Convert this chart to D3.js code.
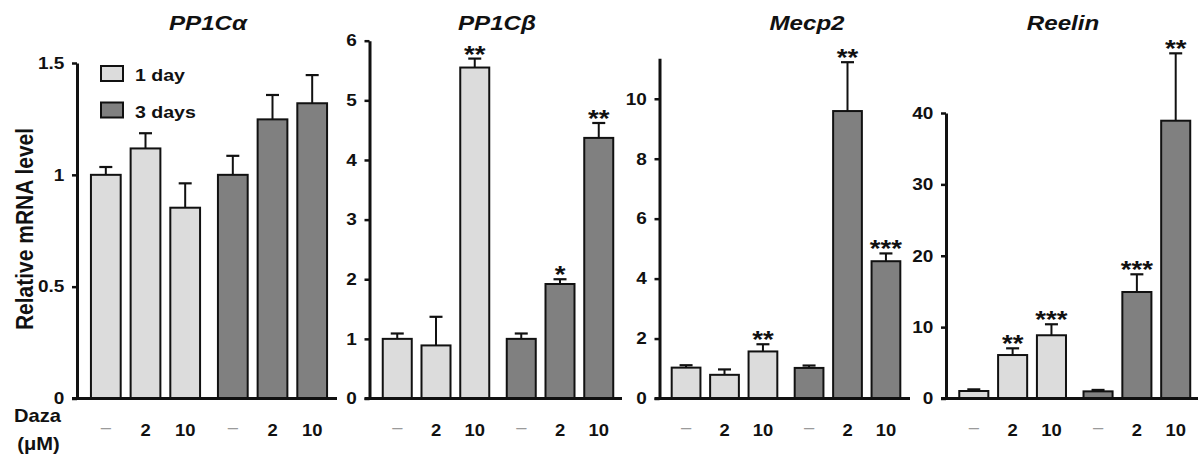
<!DOCTYPE html>
<html><head><meta charset="utf-8">
<script src="https://cdn.jsdelivr.net/npm/d3@7"></script>
<style>
body{margin:0;background:#fff}
svg{display:block}
text{font-family:"Liberation Sans",Arial,Helvetica,sans-serif;}
</style>
</head><body>
<svg id="c" width="1200" height="457"></svg>
<script>
// ---------------- data ----------------
const groups = ["1 day", "3 days"];
const doses = ["–", "2", "10"];
const genes = ["PP1Cα", "PP1Cβ", "Mecp2", "Reelin"];

const pp1caMean = [1.00, 1.118, 0.853, 1.00, 1.248, 1.32];
const pp1caSem  = [0.035, 0.068, 0.109, 0.085, 0.109, 0.126];
const pp1caSig  = ["", "", "", "", "", ""];

const pp1cbMean = [1.00, 0.89, 5.55, 1.00, 1.92, 4.37];
const pp1cbSem  = [0.09, 0.48, 0.15, 0.09, 0.08, 0.25];
const pp1cbSig  = ["", "", "**", "", "*", "**"];

const mecp2Mean = [1.03, 0.79, 1.57, 1.02, 9.59, 4.58];
const mecp2Sem  = [0.08, 0.18, 0.24, 0.08, 1.63, 0.26];
const mecp2Sig  = ["", "", "**", "", "**", "***"];

const reelinMean = [1.05, 6.09, 8.86, 1.00, 14.92, 38.92];
const reelinSem  = [0.23, 0.94, 1.54, 0.20, 2.48, 9.44];
const reelinSig  = ["", "**", "***", "", "***", "**"];

const pp1caTicks = [0, 0.5, 1, 1.5];
const pp1caTickLabels = ["0", "0.5", "1", "1.5"];
const pp1cbTicks = [0, 1, 2, 3, 4, 5, 6];
const mecp2Ticks = [0, 2, 4, 6, 8, 10];
const reelinTicks = [0, 10, 20, 30, 40];

const yLabel = "Relative mRNA level";
const xLabel1 = "Daza";
const xLabel2 = "(μM)";

// ---------------- layout / style ----------------
const SX = 1.15;              // horizontal text stretch of the original
const baseY = 398.5;
const fills = {"1 day": "#dcdcdc", "3 days": "#808080"};
const panels = [
  {title: genes[0], mean: pp1caMean, sem: pp1caSem, sig: pp1caSig, ticks: pp1caTicks, fmt: (d,i)=>pp1caTickLabels[i],
   axisMax: 1.5, axisX: 77, x0: 82, x1: 336, yTop: 63, xEnd: 337, titleX: 208},
  {title: genes[1], mean: pp1cbMean, sem: pp1cbSem, sig: pp1cbSig, ticks: pp1cbTicks, fmt: d=>String(d),
   axisMax: 6, axisX: 369.5, x0: 374, x1: 622, yTop: 40.7, xEnd: 622, titleX: 497},
  {title: genes[2], mean: mecp2Mean, sem: mecp2Sem, sig: mecp2Sig, ticks: mecp2Ticks, fmt: d=>String(d),
   axisMax: 11.35, axisX: 659.5, x0: 663, x1: 909, yTop: 58.3, xEnd: 910, titleX: 807},
  {title: genes[3], mean: reelinMean, sem: reelinSem, sig: reelinSig, ticks: reelinTicks, fmt: d=>String(d),
   axisMax: 40, axisX: 946, x0: 950.5, x1: 1199, yTop: 113, xEnd: 1198, titleX: 1063},
];

const svg = d3.select("#c");

function stext(parent, x, y, txt, size, opts = {}) {
  const t = parent.append("text")
    .attr("transform", `translate(${x},${y}) scale(${SX},1)` + (opts.rotate ? ` rotate(${opts.rotate})` : ""))
    .attr("font-size", size)
    .attr("font-weight", opts.weight || "bold")
    .attr("font-style", opts.style || "normal")
    .attr("text-anchor", opts.anchor || "start")
    .attr("fill", opts.fill || "#111")
    .text(txt);
  return t;
}

panels.forEach(p => {
  const g = svg.append("g");
  const y = d3.scaleLinear().domain([0, p.axisMax]).range([baseY, p.yTop]);
  const outer = d3.scaleBand().domain(groups).range([p.x0, p.x1]).padding(0);
  const inner = d3.scaleBand().domain(doses).range([0, outer.bandwidth()]).padding(0.2);

  const rows = [];
  groups.forEach((grp, gi) => doses.forEach((ds, di) => {
    const i = gi * doses.length + di;
    rows.push({grp, ds, mean: p.mean[i], sem: p.sem[i], sig: p.sig[i]});
  }));
  const cx = d => outer(d.grp) + inner(d.ds) + inner.bandwidth() / 2;

  // bars
  g.selectAll("rect.bar").data(rows).join("rect")
    .attr("class", "bar")
    .attr("x", d => outer(d.grp) + inner(d.ds) + 1)
    .attr("width", inner.bandwidth() - 2)
    .attr("y", d => y(d.mean))
    .attr("height", d => y(0) - y(d.mean))
    .attr("fill", d => fills[d.grp])
    .attr("stroke", "#111").attr("stroke-width", 2);

  // error bars (upper only)
  g.selectAll("line.err").data(rows).join("line")
    .attr("class", "err")
    .attr("x1", cx).attr("x2", cx)
    .attr("y1", d => y(d.mean)).attr("y2", d => y(d.mean + d.sem))
    .attr("stroke", "#111").attr("stroke-width", 2);
  g.selectAll("line.cap").data(rows).join("line")
    .attr("class", "cap")
    .attr("x1", d => cx(d) - 6.5).attr("x2", d => cx(d) + 6.5)
    .attr("y1", d => y(d.mean + d.sem)).attr("y2", d => y(d.mean + d.sem))
    .attr("stroke", "#111").attr("stroke-width", 2.2);

  // significance stars
  rows.filter(d => d.sig).forEach(d => {
    stext(g, cx(d), y(d.mean + d.sem) + 4, d.sig, 24, {anchor: "middle"});
  });

  // y axis
  const ax = g.append("g").attr("transform", `translate(${p.axisX},0)`)
    .call(d3.axisLeft(y).tickValues(p.ticks).tickFormat(p.fmt).tickSize(5).tickSizeOuter(0).tickPadding(6));
  ax.select(".domain").attr("stroke", "#111").attr("stroke-width", 3);
  ax.selectAll(".tick line").attr("stroke", "#111").attr("stroke-width", 2.5);
  ax.selectAll(".tick text")
    .attr("font-size", 16.5).attr("font-weight", "bold").attr("fill", "#111")
    .attr("font-family", "'Liberation Sans', Arial, sans-serif")
    .attr("transform", `scale(${SX},1)`);

  // x baseline
  g.append("line")
    .attr("x1", p.axisX - 5).attr("x2", p.xEnd)
    .attr("y1", y(0)).attr("y2", y(0))
    .attr("stroke", "#111").attr("stroke-width", 3);

  // x labels (doses)
  rows.forEach(d => {
    if (d.ds === "–") {
      stext(g, cx(d), 433, d.ds, 16, {anchor: "middle", weight: "normal", fill: "#9a9a9a"});
    } else {
      stext(g, cx(d), 436, d.ds, 16, {anchor: "middle"});
    }
  });

  // title
  stext(g, p.titleX, 30, p.title, 21, {anchor: "middle", style: "italic"});
});

// y label
stext(svg, 33, 229, yLabel, 21, {anchor: "middle", rotate: -90});

// Daza (μM)
stext(svg, 37.5, 421.5, xLabel1, 17.5, {anchor: "middle"});
stext(svg, 38.5, 450, xLabel2, 17.5, {anchor: "middle"});

// legend
const leg = svg.append("g");
groups.forEach((grp, i) => {
  const ly = 66 + i * 36.5;
  leg.append("rect").attr("x", 101).attr("y", ly).attr("width", 22).attr("height", 15)
    .attr("fill", fills[grp]).attr("stroke", "#111").attr("stroke-width", 2);
  stext(leg, 135, ly + 15, grp, 17);
});
</script>
</body></html>
